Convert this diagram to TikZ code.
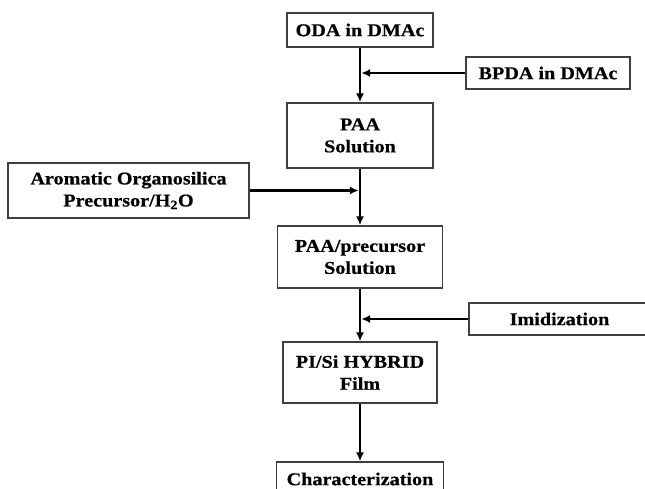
\documentclass[tikz,border=0pt]{standalone}
\usepackage{fontspec}
\setmainfont{Liberation Serif}[FakeStretch=1.12, BoldFeatures={FakeBold=0.6}]
\usetikzlibrary{arrows.meta}

\begin{document}
\begin{tikzpicture}[
  x=1pt, y=-1pt,
  >={Latex[length=9pt,width=8pt]},
  every node/.style={font=\fontsize{18}{22}\selectfont\bfseries},
  stage/.style={draw=black!75, line width=1.3pt, inner sep=0pt,
              align=center},
  flow/.style={->, line width=2.5pt},
]
  \useasboundingbox (0,0) rectangle (645,489);
  \clip (0,0) rectangle (645,489);

  \node[stage, minimum width=146pt, minimum height=34pt] (oda) at (360,30)
    {ODA in DMAc};
  \node[stage, minimum width=164pt, minimum height=32pt] (bpda) at (548,73)
    {BPDA in DMAc};
  \node[stage, minimum width=146pt, minimum height=65pt] (paa) at (360,135.5)
    {PAA\\Solution};
  \node[stage, minimum width=241pt, minimum height=55pt] (arom) at (128.5,190.5)
    {Aromatic Organosilica\\Precursor/H\textsubscript{2}O};
  \node[stage, minimum width=165pt, minimum height=62pt] (mix) at (360,257)
    {PAA/precursor\\Solution};
  \node[stage, minimum width=181pt, minimum height=32pt] (imid) at (559.5,319)
    {Imidization};
  \node[stage, minimum width=154pt, minimum height=61pt] (film) at (360,372.5)
    {PI/Si HYBRID\\Film};
  \node[stage, minimum width=167pt, minimum height=34pt] (char) at (360,479)
    {Characterization};

  % joins on the main line
  \coordinate (j1) at (oda.south |- bpda.west);
  \coordinate (j2) at (paa.south |- arom.east);
  \coordinate (j3) at (mix.south |- imid.west);

  \draw[flow] (oda) -- (paa);
  \draw[flow, shorten >=1.2pt] (bpda) -- (j1);
  \draw[flow] (paa) -- (mix);
  \draw[flow, shorten >=1.2pt] (arom) -- (j2);
  \draw[flow] (mix) -- (film);
  \draw[flow, shorten >=1.2pt] (imid) -- (j3);
  \draw[flow] (film) -- (char);
\end{tikzpicture}
\end{document}
